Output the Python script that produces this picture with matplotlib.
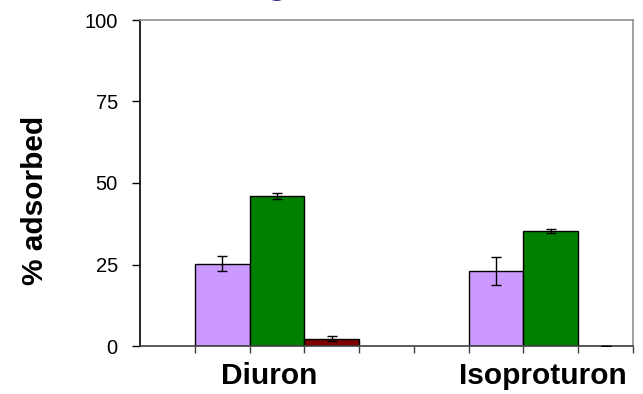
import numpy as np
import matplotlib
matplotlib.use('Agg')
import matplotlib.pyplot as plt

plt.rcParams['font.family'] = ['Liberation Sans', 'DejaVu Sans']

# Data
categories = ['Diuron', 'Isoproturon']
series_colors = ['#CC99FF', '#008000', '#800000']
values = [[25.3, 46.0, 2.3],
          [23.1, 35.4, 0.0]]
errors = [[2.2, 0.8, 0.8],
          [4.3, 0.6, 0.1]]
y_ticks = [0, 25, 50, 75, 100]

# each category occupies slots; bars sit in 3 adjacent slots, one empty slot between groups
n_slots = 9
group_start = [1, 6]

fig = plt.figure(figsize=(6.43, 3.94), dpi=100)
ax = fig.add_axes([140 / 643, 48 / 394, 493 / 643, 326 / 394])

for g, cat in enumerate(categories):
    for s in range(len(series_colors)):
        x = group_start[g] + s + 0.5
        ax.bar(x, values[g][s], width=1.0, color=series_colors[s],
               edgecolor='black', linewidth=1.0, zorder=2)
        ax.errorbar(x, values[g][s], yerr=errors[g][s], fmt='none',
                    ecolor='black', elinewidth=1.0, capsize=3.8,
                    capthick=1.0, zorder=3)
    # category label under the group
    xc = group_start[g] + 1.5 - 0.15
    ax.text(xc, -0.118, cat, transform=ax.get_xaxis_transform(),
            ha='center', va='baseline', fontsize=21.5, fontweight='bold')

ax.set_xlim(0, n_slots)
ax.set_ylim(0, 100)
ax.set_xticks(np.arange(1, n_slots + 1))
ax.set_xticklabels([])
ax.set_yticks(y_ticks)
ax.set_yticklabels([str(t) for t in y_ticks], fontsize=14.5)
ax.tick_params(axis='y', direction='out', length=6, width=1, pad=10)
ax.tick_params(axis='x', direction='out', length=5, width=1, color='#404040')

ax.spines['left'].set_color('black')
ax.spines['bottom'].set_color('#404040')
ax.spines['top'].set_color('#909090')
ax.spines['right'].set_color('#909090')
for sp in ax.spines.values():
    sp.set_linewidth(1.2)

fig.text(35 / 643, 1 - 200 / 394, '% adsorbed', rotation=90,
         ha='center', va='center', fontsize=21.5, fontweight='bold')

# cropped slide title fragment at the very top
fig.text(277 / 643, 1 + 6 / 394, 'g', ha='center', va='baseline',
         fontsize=24, fontweight='bold', color='#333399')

fig.savefig('out.png', dpi=100)
